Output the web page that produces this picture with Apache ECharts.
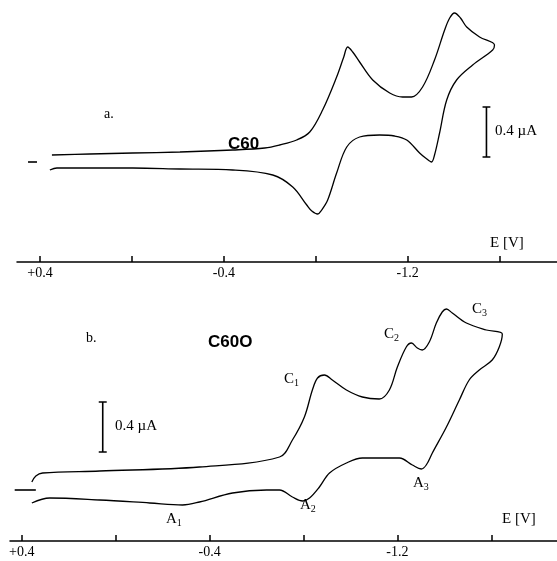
<!DOCTYPE html>
<html>
<head>
<meta charset="utf-8">
<script src="https://cdn.jsdelivr.net/npm/echarts@6/dist/echarts.min.js"></script>
<style>
  html, body { margin: 0; padding: 0; background: #fff; }
  #chart { width: 557px; height: 561px; }
</style>
</head>
<body>
<div id="chart"></div>
<script>
// potentials (V) and currents (uA), forward scan then back
var topE = [0.348, 0.183, -0.004, -0.209, -0.439, -0.578, -0.643, -0.717, -0.774, -0.830,
  -0.891, -0.922, -0.939, -0.961, -0.991, -1.048, -1.122, -1.178, -1.217, -1.265,
  -1.317, -1.361, -1.383, -1.404, -1.430, -1.457, -1.513, -1.578,
  -1.570, -1.483, -1.413, -1.370, -1.339, -1.317, -1.304, -1.278, -1.252, -1.196,
  -1.143, -1.078, -0.991, -0.935, -0.891, -0.852, -0.826, -0.809, -0.783, -0.761,
  -0.700, -0.613, -0.439, -0.209, -0.004, 0.326, 0.357];
var topI = [0.056, 0.064, 0.072, 0.08, 0.096, 0.112, 0.136, 0.176, 0.24, 0.416,
  0.68, 0.84, 0.92, 0.88, 0.80, 0.656, 0.552, 0.52, 0.52, 0.60,
  0.816, 1.056, 1.152, 1.192, 1.152, 1.08, 1.0, 0.936,
  0.896, 0.776, 0.656, 0.496, 0.232, 0.056, 0, 0.032, 0.072, 0.176,
  0.208, 0.216, 0.2, 0.12, -0.088, -0.304, -0.384, -0.416, -0.392, -0.344,
  -0.2, -0.104, -0.064, -0.056, -0.048, -0.048, -0.064];

var botE = [0.357, 0.340, 0.311, 0.068, -0.357, -0.698, -0.753, -0.804, -0.838, -0.860,
  -0.889, -0.923, -0.983, -1.051, -1.123, -1.166, -1.200, -1.238, -1.260, -1.285,
  -1.306, -1.336, -1.366, -1.391, -1.409, -1.434, -1.494, -1.579, -1.647,
  -1.634, -1.604, -1.549, -1.506, -1.464, -1.409, -1.349, -1.323, -1.302, -1.264,
  -1.209, -1.123, -1.051, -0.983, -0.911, -0.868, -0.826, -0.796, -0.753, -0.698,
  -0.643, -0.498, -0.357, -0.285, -0.145, 0.068, 0.281, 0.357];
var botI = [0.064, 0.112, 0.136, 0.152, 0.184, 0.264, 0.4, 0.584, 0.8, 0.896,
  0.92, 0.88, 0.8, 0.744, 0.728, 0.8, 0.984, 1.144, 1.176, 1.136,
  1.12, 1.184, 1.336, 1.424, 1.448, 1.416, 1.336, 1.28, 1.248,
  1.144, 1.04, 0.96, 0.88, 0.72, 0.504, 0.296, 0.2, 0.168, 0.2,
  0.256, 0.256, 0.256, 0.216, 0.136, 0.024, -0.064, -0.088, -0.056, 0,
  0, -0.024, -0.096, -0.12, -0.104, -0.08, -0.064, -0.104];

var tickValues = [0.4, 0, -0.4, -0.8, -1.2, -1.6];
var labelValues = [0.4, -0.4, -1.2];

// zero-current dashes and 0.4 uA scale bars
var zeroTop = [[0.452, 0], [0.413, 0]];
var zeroBot = [[0.430, 0], [0.340, 0]];
var barTop = [[-1.526, 0.04], [-1.560, 0.04], [-1.543, 0.04], [-1.543, 0.44], [-1.526, 0.44], [-1.560, 0.44]];
var barBot = [[0.072, 0.304], [0.038, 0.304], [0.055, 0.304], [0.055, 0.704], [0.072, 0.704], [0.038, 0.704]];

function pairs(xs, ys) {
  return xs.map(function (x, i) { return [x, ys[i]]; });
}

var serif = "Liberation Serif";
var sans = "Liberation Sans";

function xAxis(idx, min, max) {
  return {
    type: "value",
    gridIndex: idx,
    min: min,
    max: max,
    inverse: true,
    axisLine: { show: true, onZero: false, lineStyle: { color: "#000", width: 1.5 } },
    axisTick: { show: true, inside: true, length: 6, customValues: tickValues, lineStyle: { color: "#000", width: 1.5 } },
    axisLabel: {
      show: true,
      customValues: labelValues,
      color: "#000",
      fontFamily: serif,
      fontSize: 14,
      margin: 4,
      formatter: function (v) { return v > 0 ? "+" + v : String(v); }
    },
    splitLine: { show: false }
  };
}

function yAxis(idx, min, max) {
  return { type: "value", gridIndex: idx, min: min, max: max, show: false, splitLine: { show: false } };
}

function line(idx, data, w) {
  return {
    type: "line",
    xAxisIndex: idx,
    yAxisIndex: idx,
    data: data,
    showSymbol: false,
    symbol: "none",
    clip: false,
    smooth: w ? 0.35 : false,
    lineStyle: { color: "#000", width: w || 1.6 },
    silent: true
  };
}

var sub = { fontFamily: serif, fontSize: 10, color: "#000", padding: [8, 0, 0, 0] };
function peak(x, y, letter, n) {
  return {
    type: "text", left: x, top: y,
    style: {
      text: "{m|" + letter + "}{s|" + n + "}",
      rich: { m: { fontFamily: serif, fontSize: 15, color: "#000" }, s: sub }
    }
  };
}
function txt(x, y, s, font, size, weight) {
  return {
    type: "text", left: x, top: y,
    style: { text: s, fontFamily: font, fontSize: size, fontWeight: weight || "normal", fill: "#000" }
  };
}

var myChart = echarts.init(document.getElementById("chart"));
var option = {
  animation: false,
  backgroundColor: "#fff",
  grid: [
    { left: 17, right: 0, top: 0, bottom: 299 },
    { left: 10, right: 0, top: 290, bottom: 20 }
  ],
  xAxis: [xAxis(0, -1.85, 0.5), xAxis(1, -1.88, 0.45)],
  yAxis: [yAxis(0, -0.8, 1.296), yAxis(1, -0.408, 1.6)],
  series: [
    line(0, pairs(topE, topI), 1.3),
    line(1, pairs(botE, botI), 1.3),
    line(0, zeroTop),
    line(1, zeroBot),
    line(0, barTop),
    line(1, barBot)
  ],
  graphic: [
    txt(104, 107, "a.", serif, 14),
    txt(228, 136, "C60", sans, 17, "bold"),
    txt(495, 124, "0.4 \u00b5A", serif, 15),
    txt(490, 236, "E [V]", serif, 15),
    txt(86, 331, "b.", serif, 14),
    txt(208, 334, "C60O", sans, 17, "bold"),
    txt(115, 419, "0.4 \u00b5A", serif, 15),
    txt(502, 512, "E [V]", serif, 15),
    peak(284, 372, "C", "1"),
    peak(384, 327, "C", "2"),
    peak(472, 302, "C", "3"),
    peak(166, 512, "A", "1"),
    peak(300, 498, "A", "2"),
    peak(413, 476, "A", "3")
  ]
};
myChart.setOption(option);
</script>
</body>
</html>
